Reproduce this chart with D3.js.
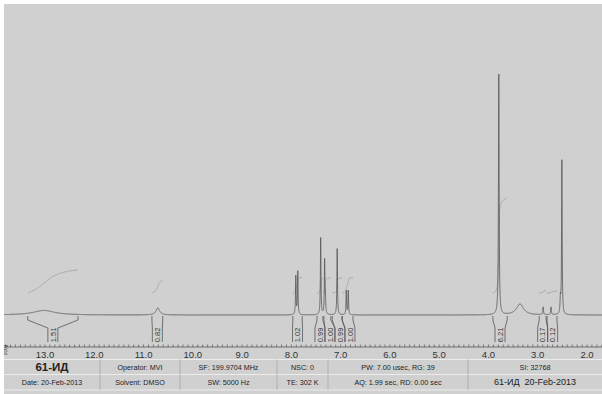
<!DOCTYPE html>
<html><head><meta charset="utf-8">
<script src="https://cdn.jsdelivr.net/npm/d3@7"></script>
<style>body{margin:0;background:#fff}svg{display:block}text{white-space:pre}</style>
</head><body><svg id="c" width="602" height="394"></svg>
<script>
// ---- data ----
const peakPpm    = [13.02, 10.71, 7.91, 7.87, 7.405, 7.325, 7.31, 7.07, 6.885, 6.845, 3.79, 3.36, 2.89, 2.73, 2.54, 2.51];
const peakHeight = [1.9,   2.9,   16.0, 18.0, 32.0,  22.0,  7.0,  27.5, 10.0,  10.0,  100,  4.6,  3.2,  3.2,  6.0,  64.0];
const peakWidth  = [0.26,  0.045, 0.007,0.007,0.007, 0.007, 0.007,0.007,0.007, 0.007, 0.008,0.085,0.008,0.008,0.008,0.007];

const integStart = [13.35, 10.83, 7.97, 7.48, 7.34, 7.17, 6.97, 3.91, 2.97, 2.81];
const integEnd   = [12.33, 10.61, 7.78, 7.36, 7.20, 6.97, 6.75, 3.62, 2.83, 2.61];
const integValue = ["1.51","0.82","1.02","0.99","1.00","0.99","1.00","6.21","0.17","0.12"];

const tickValues = [13, 12, 11, 10, 9, 8, 7, 6, 5, 4, 3, 2];

const row1 = ["61-ИД", "Operator: MVI", "SF: 199.9704 MHz", "NSC: 0", "PW: 7.00 usec, RG: 39", "SI: 32768"];
const row2 = ["Date: 20-Feb-2013", "Solvent: DMSO", "SW: 5000 Hz", "TE: 302 K", "AQ: 1.99 sec, RD: 0.00 sec", "61-ИД  20-Feb-2013"];

// ---- layout ----
const W = 602, H = 394;
const svg = d3.select("#c");
const font = "Liberation Sans, Arial, sans-serif";

svg.append("rect").attr("x",4).attr("y",4).attr("width",W-4).attr("height",H-4).attr("fill","#d0d0d0");

const x = d3.scaleLinear().domain([13, 2]).range([45, 587]);
const y = d3.scaleLinear().domain([0, 100]).range([315, 74]);
const yInt = d3.scaleLinear().domain([0, 6.21]).range([293, 198]);

function model(p){
  let s = 0;
  for (let i=0;i<peakPpm.length;i++){
    const d = (p - peakPpm[i]) / peakWidth[i];
    s += peakHeight[i] / (1 + d*d);
  }
  return s;
}
const pLeft = x.invert(4), pRight = x.invert(W);
const pts = d3.range(pLeft, pRight, -0.0015).map(p => [p, model(p)]);

svg.append("defs").append("clipPath").attr("id","pc")
  .append("rect").attr("x",4).attr("y",4).attr("width",W-4).attr("height",340);

const g = svg.append("g").attr("clip-path","url(#pc)");

// integral curves
integStart.forEach((s,i) => {
  const e = integEnd[i];
  const seg = d3.range(s, e, -0.0015).map(p => model(p));
  const tot = d3.sum(seg);
  let acc = 0;
  const v = +integValue[i];
  const cp = seg.map((m,k) => { acc += m; return [s - k*0.0015, v*acc/tot]; });
  g.append("path").datum(cp)
    .attr("d", d3.line().x(d=>x(d[0])).y(d=>yInt(d[1])))
    .attr("fill","none").attr("stroke","#a0a0a0").attr("stroke-width",0.8);
});

// spectrum
g.append("path").datum(pts)
  .attr("d", d3.line().x(d=>x(d[0])).y(d=>y(d[1])))
  .attr("fill","none").attr("stroke","#555").attr("stroke-width",0.8);

// integral brackets with overlap resolution
const bw = 10;
const centers = integStart.map((s,i)=> (x(s)+x(integEnd[i]))/2);
for (let i=1;i<centers.length;i++){
  if (centers[i] < centers[i-1] + bw) centers[i] = centers[i-1] + bw;
}
integStart.forEach((s,i) => {
  const xl = x(s), xr = x(integEnd[i]);
  const bl = centers[i]-bw/2, br = centers[i]+bw/2;
  const path = `M${xl},316 V320 L${bl},328 V342 M${xr},316 V320 L${br},328 V342`;
  svg.append("path").attr("d",path).attr("fill","none").attr("stroke","#555").attr("stroke-width",0.8);
  svg.append("text").attr("transform",`translate(${centers[i]+2.8},335) rotate(-90)`)
    .attr("text-anchor","middle").attr("font-family",font).attr("font-size",7.5).attr("fill","#333")
    .text(integValue[i]);
});

// axis
const ax = svg.append("g");
ax.append("line").attr("x1",4).attr("x2",W).attr("y1",347).attr("y2",347).attr("stroke","#555").attr("stroke-width",0.8);
const minor = d3.range(13.8, 1.65, -0.1).map(v=>+v.toFixed(1));
ax.selectAll("line.mt").data(minor).join("line").attr("class","mt")
  .attr("x1",d=>x(d)).attr("x2",d=>x(d)).attr("y1",344.5).attr("y2",347)
  .attr("stroke","#555").attr("stroke-width",0.7);
ax.selectAll("text.tl").data(tickValues).join("text").attr("class","tl")
  .attr("x",d=>x(d)).attr("y",357.5).attr("text-anchor","middle")
  .attr("font-family",font).attr("font-size",9.5).attr("fill","#333")
  .text(d=>d.toFixed(1));
svg.append("text").attr("transform","translate(7.5,350) rotate(-90)")
  .attr("text-anchor","middle").attr("font-family",font).attr("font-size",5).attr("fill","#444").text("PPM");

// table
const colEdges = [4, 100, 180, 277, 328, 468, 602];
const rowEdges = [359.5, 374.5, 390];
const tg = svg.append("g");
rowEdges.forEach(r => tg.append("line").attr("x1",4).attr("x2",W).attr("y1",r).attr("y2",r).attr("stroke","#ececec").attr("stroke-width",1));
colEdges.slice(1,-1).forEach(c => tg.append("line").attr("x1",c).attr("x2",c).attr("y1",rowEdges[0]).attr("y2",rowEdges[2]).attr("stroke","#a8a8a8").attr("stroke-width",0.8));
[row1,row2].forEach((row,ri) => {
  row.forEach((t,ci) => {
    const big = (ri===0 && ci===0);
    const mid = (ri===1 && ci===5);
    tg.append("text")
      .attr("x",(colEdges[ci]+colEdges[ci+1])/2)
      .attr("y",(rowEdges[ri]+rowEdges[ri+1])/2)
      .attr("dy","0.35em").attr("text-anchor","middle")
      .attr("font-family",font)
      .attr("font-size", big ? 11.5 : (mid ? 9 : 7.2))
      .attr("font-weight", big ? "bold" : "normal")
      .attr("fill","#222").text(t);
  });
});
</script></body></html>
